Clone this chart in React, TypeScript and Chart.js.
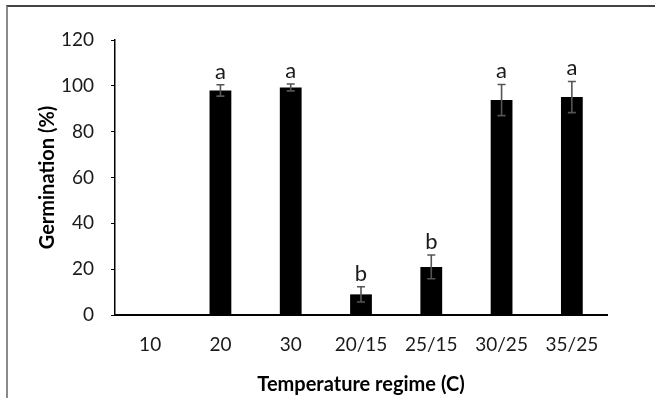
import React, { useEffect, useRef } from "react";
import { Chart, registerables } from "chart.js";

Chart.register(...registerables);

const categories = ["10", "20", "30", "20/15", "25/15", "30/25", "35/25"];
const germination = [0, 98, 99.3, 9, 21, 93.8, 95.1];
const errors = [0, 2.5, 1.5, 3.3, 5.2, 6.8, 6.8];
const letters = ["", "a", "a", "b", "b", "a", "a"];
const yMin = 0;
const yMax = 120;
const yStep = 20;

const FONT = "Lato, 'Open Sans', sans-serif";

const errorBarPlugin = {
  id: "errorBars",
  afterDatasetsDraw(chart: any) {
    const { ctx } = chart;
    const meta = chart.getDatasetMeta(0);
    const yScale = chart.scales.y;
    ctx.save();
    meta.data.forEach((bar: any, i: number) => {
      const v = germination[i];
      const e = errors[i];
      const x = bar.x;
      let topY = yScale.getPixelForValue(v);
      if (e > 0) {
        const yTop = yScale.getPixelForValue(v + e);
        const yBot = yScale.getPixelForValue(v - e);
        ctx.strokeStyle = "#555555";
        ctx.lineWidth = 1.6;
        ctx.beginPath();
        ctx.moveTo(x, yTop);
        ctx.lineTo(x, yBot);
        ctx.moveTo(x - 4, yTop);
        ctx.lineTo(x + 4, yTop);
        ctx.moveTo(x - 4, yBot);
        ctx.lineTo(x + 4, yBot);
        ctx.stroke();
        topY = yTop;
      }
      if (letters[i]) {
        ctx.fillStyle = "#1a1a1a";
        ctx.font = `22px ${FONT}`;
        ctx.textAlign = "center";
        ctx.textBaseline = "alphabetic";
        ctx.fillText(letters[i], x, topY - 6);
      }
    });
    ctx.restore();
  },
};

export default function App() {
  const ref = useRef<HTMLCanvasElement | null>(null);

  useEffect(() => {
    if (!ref.current) return;
    const chart = new Chart(ref.current, {
      type: "bar",
      data: {
        labels: categories,
        datasets: [
          {
            data: germination,
            backgroundColor: "#000000",
            borderWidth: 0,
            barPercentage: 0.31,
            categoryPercentage: 1,
          },
        ],
      },
      options: {
        responsive: false,
        animation: false,
        layout: { padding: { left: 0, right: 48, top: 40, bottom: 0 } },
        plugins: {
          legend: { display: false },
          tooltip: { enabled: false },
          title: { display: false },
        },
        scales: {
          x: {
            grid: { display: false, drawTicks: false },
            border: { display: true, color: "#000000", width: 2 },
            ticks: {
              color: "#1a1a1a",
              font: { family: FONT, size: 19 },
              padding: 18,
              maxRotation: 0,
            },
            title: {
              display: true,
              text: "Temperature regime (C)",
              color: "#000000",
              font: { family: FONT, size: 20, weight: "bold" },
              padding: { top: 0, bottom: 1 },
            },
            afterFit(scale: any) {
              scale.height = 83;
            },
          },
          y: {
            min: yMin,
            max: yMax,
            ticks: {
              stepSize: yStep,
              color: "#1a1a1a",
              font: { family: FONT, size: 19 },
              padding: 17,
            },
            grid: {
              display: true,
              drawOnChartArea: false,
              drawTicks: true,
              tickLength: 4,
              color: "#000000",
              lineWidth: 1,
            },
            border: { display: true, color: "#000000", width: 1.5 },
            title: {
              display: true,
              text: "Germination (%)",
              color: "#000000",
              font: { family: FONT, size: 20, weight: "bold" },
              padding: { top: 36, bottom: 0 },
            },
            afterFit(scale: any) {
              scale.width = 115;
            },
          },
        },
      },
      plugins: [errorBarPlugin],
    });
    return () => chart.destroy();
  }, []);

  return (
    <div
      style={{
        position: "fixed",
        left: 0,
        top: 0,
        width: 655,
        height: 398,
        background: "#ffffff",
        overflow: "hidden",
      }}
    >
      <canvas ref={ref} width={655} height={398} style={{ display: "block" }} />
      <div
        style={{
          position: "absolute",
          left: 6,
          top: 5,
          width: 700,
          height: 500,
          borderTop: "2px solid #444444",
          borderLeft: "2px solid #8a8a8a",
          pointerEvents: "none",
        }}
      />
    </div>
  );
}
